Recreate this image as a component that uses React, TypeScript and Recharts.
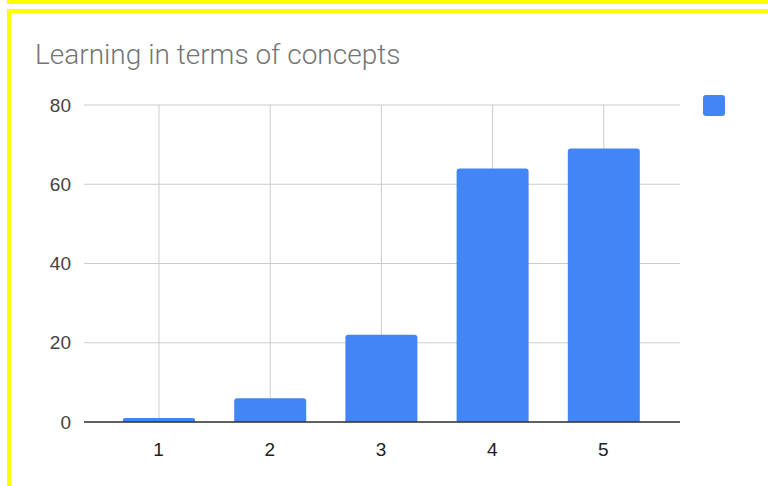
import React from 'react';
import { BarChart, Bar, XAxis, YAxis, CartesianGrid } from 'recharts';

const categories = ['1', '2', '3', '4', '5'];
const values = [1, 6, 22, 64, 69];
const yTicks = [0, 20, 40, 60, 80];

const data = categories.map((name, i) => ({ name, value: values[i] }));

const YELLOW = '#ffff00';
const BLUE = '#4285F4';
const GRID = '#cccccc';

// vertical gridline through the middle of each category, drawn under the bar
const CenterGridLine = (props: any) => {
  const { x, y, width, height } = props;
  const cx = x + width / 2;
  return <line x1={cx} x2={cx} y1={y} y2={y + height} stroke={GRID} strokeWidth={1} />;
};

const App: React.FC = () => {
  return (
    <div
      style={{
        position: 'absolute',
        left: 0,
        top: 0,
        width: 768,
        height: 486,
        overflow: 'hidden',
        background: 'white'
      }}
    >
      {/* highlight frame */}
      <div style={{ position: 'absolute', left: 7, top: 0, width: 761, height: 4, background: YELLOW }} />
      <div style={{ position: 'absolute', left: 7, top: 9, width: 761, height: 4, background: YELLOW }} />
      <div style={{ position: 'absolute', left: 7, top: 9, width: 4, height: 477, background: YELLOW }} />

      <div
        style={{
          position: 'absolute',
          left: 35,
          top: 38,
          fontFamily: 'Roboto, Arial, sans-serif',
          fontSize: 28,
          fontWeight: 300,
          color: '#757575',
          whiteSpace: 'nowrap'
        }}
      >
        Learning in terms of concepts
      </div>

      {/* legend marker (series has no name) */}
      <div
        style={{
          position: 'absolute',
          left: 703,
          top: 95,
          width: 22,
          height: 21,
          background: BLUE,
          borderRadius: 3
        }}
      />

      <div style={{ position: 'absolute', left: 0, top: 0 }}>
        <BarChart
          width={768}
          height={486}
          data={data}
          margin={{ top: 105, right: 88, bottom: 34, left: 0 }}
          barSize={72}
        >
          <CartesianGrid stroke={GRID} vertical={false} />
          <XAxis
            dataKey="name"
            padding={{ left: 19, right: 21 }}
            axisLine={{ stroke: '#333333', strokeWidth: 1.5 }}
            tickLine={false}
            tickMargin={15}
            height={30}
            tick={{ fill: '#222222', fontSize: 19, fontFamily: 'Arial, sans-serif' }}
          />
          <YAxis
            domain={[0, 80]}
            ticks={yTicks}
            width={84}
            axisLine={false}
            tickLine={false}
            tickMargin={7}
            tick={{ fill: '#444444', fontSize: 19, fontFamily: 'Arial, sans-serif' }}
          />
          <Bar
            dataKey="value"
            fill={BLUE}
            radius={[3, 3, 0, 0]}
            background={CenterGridLine}
            isAnimationActive={false}
          />
        </BarChart>
      </div>
    </div>
  );
};

export default App;
